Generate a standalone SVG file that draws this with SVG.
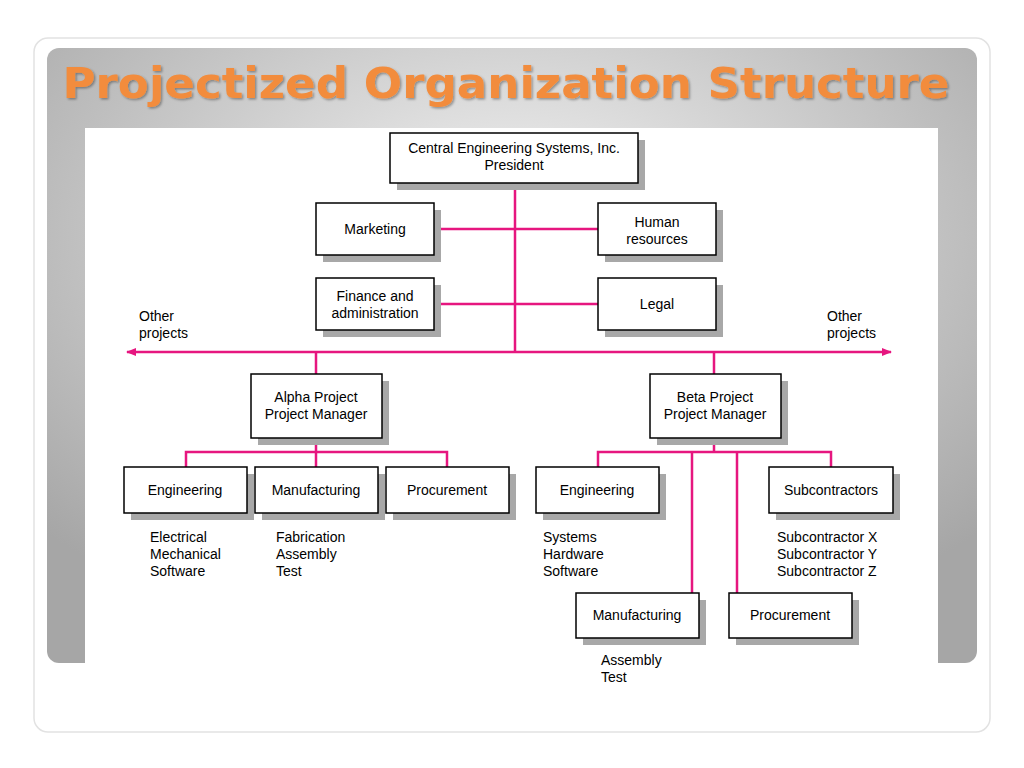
<svg xmlns="http://www.w3.org/2000/svg" width="1024" height="768" viewBox="0 0 1024 768">
<defs>
<radialGradient id="g" cx="0.5" cy="0.3" r="0.7"><stop offset="0" stop-color="#f4f4f4"/><stop offset="1" stop-color="#a6a6a6"/></radialGradient>
<filter id="ts"><feDropShadow dx="1.5" dy="1.5" stdDeviation="1" flood-color="#000" flood-opacity="0.35"/></filter>
<marker id="ar" markerWidth="10" markerHeight="8" refX="9" refY="4" orient="auto" markerUnits="userSpaceOnUse"><path d="M0,0 L10,4 L0,8 Z" fill="#e6167f"/></marker>
</defs>
<style>
.b rect.s{fill:#a8a8a8}
.b rect.f{fill:#fff;stroke:#000;stroke-width:1.5}
.b text{font-family:"Liberation Sans",Arial,sans-serif;font-size:14px;text-anchor:middle;fill:#000}
.t{font-family:"Liberation Sans",Arial,sans-serif;font-size:14px;fill:#000}
#c path{fill:none;stroke:#e6167f;stroke-width:2.5}
</style>
<rect width="1024" height="768" fill="#fff"/>
<rect x="34" y="38" width="956" height="694" rx="14" fill="#fff" stroke="#e2e2e2" stroke-width="1.5"/>
<rect x="47" y="48" width="930" height="615" rx="12" fill="url(#g)"/>
<rect x="85" y="128" width="853" height="535" fill="#fff"/>
<text x="506" y="98" text-anchor="middle" font-family="DejaVu Sans,Verdana,sans-serif" font-weight="bold" font-size="42" fill="#f28c3c" filter="url(#ts)" textLength="887" lengthAdjust="spacingAndGlyphs">Projectized Organization Structure</text>
<g id="c">
<path d="M515,183 V352"/>
<path d="M434,229 H598 M434,304 H598"/>
<path d="M515,352 H127" marker-end="url(#ar)"/>
<path d="M515,352 H891" marker-end="url(#ar)"/>
<path d="M316,352 V374 M714,352 V374"/>
<path d="M316,438 V467 M186,467 V452 H447 V467"/>
<path d="M714,438 V452 M598,467 V452 H831 V467 M692,452 V593 M737,452 V593"/>
</g>
<g id="president" class="b"><rect class="s" x="397" y="140" width="248" height="50"/><rect class="f" x="390" y="133" width="248" height="50"/><text x="514" y="153">Central Engineering Systems, Inc.</text><text x="514" y="170">President</text></g>
<g id="marketing" class="b"><rect class="s" x="323" y="210" width="118" height="52"/><rect class="f" x="316" y="203" width="118" height="52"/><text x="375" y="234">Marketing</text></g>
<g id="hr" class="b"><rect class="s" x="605" y="210" width="118" height="52"/><rect class="f" x="598" y="203" width="118" height="52"/><text x="657" y="227">Human</text><text x="657" y="244">resources</text></g>
<g id="finance" class="b"><rect class="s" x="323" y="285" width="118" height="52"/><rect class="f" x="316" y="278" width="118" height="52"/><text x="375" y="301">Finance and</text><text x="375" y="318">administration</text></g>
<g id="legal" class="b"><rect class="s" x="605" y="285" width="118" height="52"/><rect class="f" x="598" y="278" width="118" height="52"/><text x="657" y="309">Legal</text></g>
<g id="alpha" class="b"><rect class="s" x="258" y="381" width="131" height="64"/><rect class="f" x="251" y="374" width="131" height="64"/><text x="316" y="402">Alpha Project</text><text x="316" y="419">Project Manager</text></g>
<g id="beta" class="b"><rect class="s" x="657" y="381" width="131" height="64"/><rect class="f" x="650" y="374" width="131" height="64"/><text x="715" y="402">Beta Project</text><text x="715" y="419">Project Manager</text></g>
<g id="engA" class="b"><rect class="s" x="131" y="474" width="123" height="46"/><rect class="f" x="124" y="467" width="123" height="46"/><text x="185" y="495">Engineering</text></g>
<g id="mfgA" class="b"><rect class="s" x="262" y="474" width="123" height="46"/><rect class="f" x="255" y="467" width="123" height="46"/><text x="316" y="495">Manufacturing</text></g>
<g id="procA" class="b"><rect class="s" x="393" y="474" width="123" height="46"/><rect class="f" x="386" y="467" width="123" height="46"/><text x="447" y="495">Procurement</text></g>
<g id="engB" class="b"><rect class="s" x="543" y="474" width="123" height="46"/><rect class="f" x="536" y="467" width="123" height="46"/><text x="597" y="495">Engineering</text></g>
<g id="subB" class="b"><rect class="s" x="776" y="474" width="124" height="46"/><rect class="f" x="769" y="467" width="124" height="46"/><text x="831" y="495">Subcontractors</text></g>
<g id="mfgB" class="b"><rect class="s" x="583" y="600" width="123" height="45"/><rect class="f" x="576" y="593" width="123" height="45"/><text x="637" y="620">Manufacturing</text></g>
<g id="procB" class="b"><rect class="s" x="736" y="600" width="123" height="45"/><rect class="f" x="729" y="593" width="123" height="45"/><text x="790" y="620">Procurement</text></g>
<g id="labels" class="t">
<text x="139" y="321">Other</text><text x="139" y="338">projects</text>
<text x="827" y="321">Other</text><text x="827" y="338">projects</text>
<text x="150" y="542">Electrical</text><text x="150" y="559">Mechanical</text><text x="150" y="576">Software</text>
<text x="276" y="542">Fabrication</text><text x="276" y="559">Assembly</text><text x="276" y="576">Test</text>
<text x="543" y="542">Systems</text><text x="543" y="559">Hardware</text><text x="543" y="576">Software</text>
<text x="777" y="542">Subcontractor X</text><text x="777" y="559">Subcontractor Y</text><text x="777" y="576">Subcontractor Z</text>
<text x="601" y="665">Assembly</text><text x="601" y="682">Test</text>
</g>
</svg>
